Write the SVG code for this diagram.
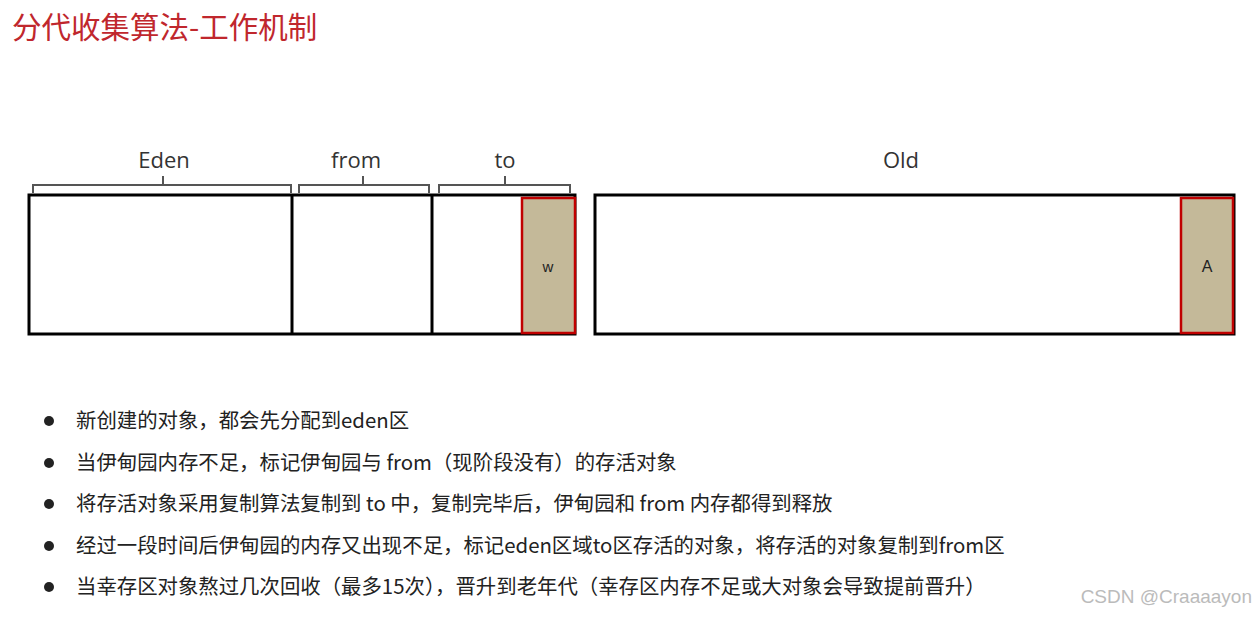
<svg xmlns="http://www.w3.org/2000/svg" width="1256" height="617" viewBox="0 0 1256 617">
<style>
.box{fill:#fff;stroke:#000;stroke-width:3}
.obj{fill:#c4b999;stroke:#c00000;stroke-width:2.5}
.br{fill:none;stroke:#555;stroke-width:2}
.lbl{font-family:"Open Sans","Liberation Sans",sans-serif;font-size:22px;fill:#333;text-anchor:middle}
.t{font-family:"Noto Sans CJK SC","Noto Sans",sans-serif;font-size:20.4px;fill:#222}
</style>
<rect width="1256" height="617" fill="#fff"/>
<text x="12" y="38" font-family="Noto Sans CJK SC,sans-serif" font-size="29.5" fill="#c0272d">分代收集算法-工作机制</text>
<g id="young">
<rect class="box" x="29" y="195" width="546" height="139"/>
<line x1="292" y1="195" x2="292" y2="334" stroke="#000" stroke-width="3"/>
<line x1="432" y1="195" x2="432" y2="334" stroke="#000" stroke-width="3"/>
</g>
<g id="w"><rect class="obj" x="522" y="198" width="53" height="135"/><text x="548" y="272" font-family="Liberation Sans,sans-serif" font-size="15" fill="#222" text-anchor="middle">w</text></g>
<g id="old"><rect class="box" x="595" y="195" width="639" height="139"/></g>
<g id="A"><rect class="obj" x="1181" y="198" width="52" height="135"/><text x="1207" y="272" font-family="Liberation Sans,sans-serif" font-size="16" fill="#222" text-anchor="middle">A</text></g>
<g id="braces">
<path class="br" d="M33 193 V185 H291 V193 M163 185 V176"/>
<path class="br" d="M299 193 V185 H429 V193 M363 185 V176"/>
<path class="br" d="M439 193 V185 H570 V193 M505 185 V176"/>
</g>
<g id="labels">
<text class="lbl" x="164" y="168">Eden</text>
<text class="lbl" x="356" y="168">from</text>
<text class="lbl" x="505" y="168">to</text>
<text class="lbl" x="901" y="168">Old</text>
</g>
<g id="bullets" fill="#222">
<circle cx="49" cy="421" r="5"/><circle cx="49" cy="463" r="5"/><circle cx="49" cy="504" r="5"/><circle cx="49" cy="546" r="5"/><circle cx="49" cy="587" r="5"/>
<text class="t" x="76" y="428">新创建的对象，都会先分配到eden区</text>
<text class="t" x="76" y="470">当伊甸园内存不足，标记伊甸园与 from（现阶段没有）的存活对象</text>
<text class="t" x="76" y="511">将存活对象采用复制算法复制到 to 中，复制完毕后，伊甸园和 from 内存都得到释放</text>
<text class="t" x="76" y="553">经过一段时间后伊甸园的内存又出现不足，标记eden区域to区存活的对象，将存活的对象复制到from区</text>
<text class="t" x="76" y="594">当幸存区对象熬过几次回收（最多15次），晋升到老年代（幸存区内存不足或大对象会导致提前晋升）</text>
</g>
<text x="1252" y="603" font-family="Liberation Sans,sans-serif" font-size="19" fill="#bbb" text-anchor="end">CSDN @Craaaayon</text>
</svg>
